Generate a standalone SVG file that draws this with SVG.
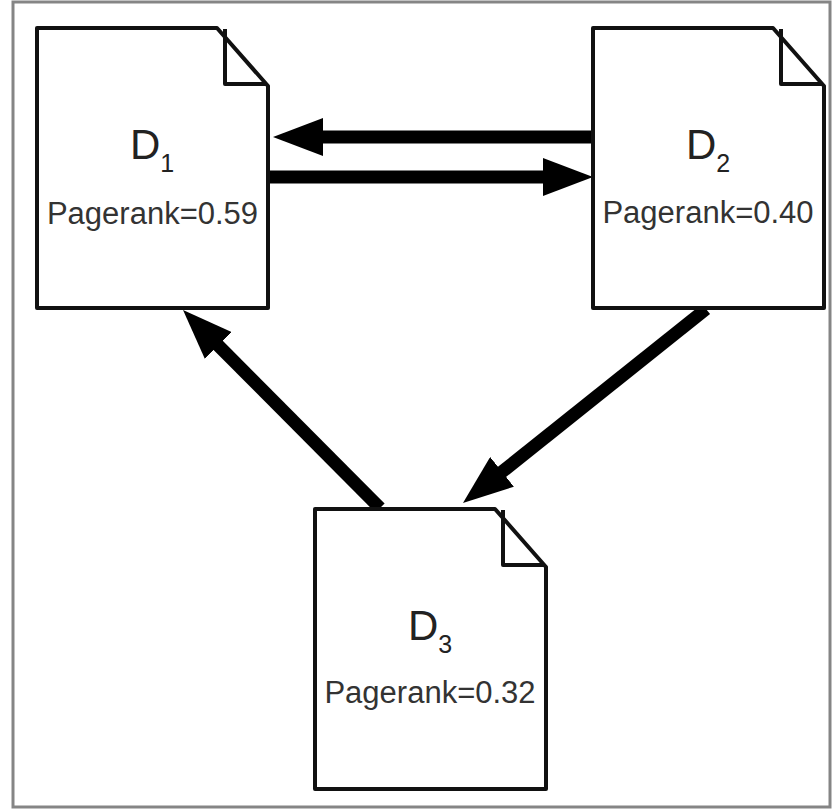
<svg xmlns="http://www.w3.org/2000/svg" width="832" height="810" viewBox="0 0 832 810">
  <style>
    .doc { fill: #ffffff; stroke: #111111; stroke-width: 4; stroke-linejoin: round; }
    .fold { fill: none; stroke: #111111; stroke-width: 4; stroke-linejoin: round; }
    .name { font-family: "Liberation Sans", Arial, Helvetica, sans-serif; font-size: 42px; fill: #222222; text-anchor: middle; }
    .sub { font-size: 25px; }
    .rank { font-family: "Liberation Sans", Arial, Helvetica, sans-serif; font-size: 31px; fill: #333333; text-anchor: middle; }
    .link { stroke: #000000; stroke-width: 13; fill: none; marker-end: url(#head); }
  </style>
  <defs>
    <!-- document page with a folded top-right corner, 233 x 280 -->
    <g id="page">
      <path class="doc" d="M0,0 H180 L231,58 V280 H0 Z"/>
      <path class="fold" d="M188,1 V56 H229"/>
    </g>
    <marker id="head" markerUnits="userSpaceOnUse" viewBox="0 0 50 38" markerWidth="50" markerHeight="38" refX="15" refY="19" orient="auto">
      <path d="M0,0 L50,19 L0,38 Z" fill="#000000"/>
    </marker>
  </defs>

  <rect x="0" y="0" width="832" height="810" fill="#ffffff"/>
  <rect x="13" y="2" width="817" height="805" fill="none" stroke="#858585" stroke-width="3"/>

  <g id="connectors">
    <line class="link" x1="593" y1="137" x2="308" y2="137"/>
    <line class="link" x1="270" y1="177" x2="558" y2="177"/>
    <line class="link" x1="380" y1="508" x2="207.7" y2="334.8"/>
    <line class="link" x1="706" y1="309" x2="490.3" y2="481.2"/>
  </g>

  <g id="D1">
    <use href="#page" x="37" y="28"/>
    <text class="name" x="152" y="159">D<tspan class="sub" dy="13">1</tspan></text>
    <text class="rank" x="152.5" y="224">Pagerank=0.59</text>
  </g>

  <g id="D2">
    <use href="#page" x="593" y="28"/>
    <text class="name" x="708" y="159">D<tspan class="sub" dy="13">2</tspan></text>
    <text class="rank" x="708" y="223">Pagerank=0.40</text>
  </g>

  <g id="D3">
    <use href="#page" x="315" y="509"/>
    <text class="name" x="430" y="640">D<tspan class="sub" dy="13">3</tspan></text>
    <text class="rank" x="430" y="703">Pagerank=0.32</text>
  </g>
</svg>
